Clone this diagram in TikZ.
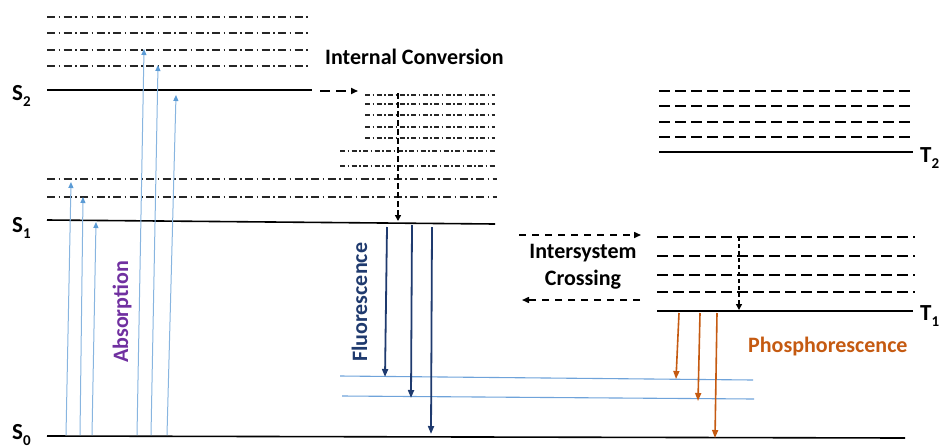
\documentclass[tikz,border=0pt]{standalone}
\usepackage{fontspec}
\setmainfont{Carlito}
\usetikzlibrary{arrows.meta}
\definecolor{absblue}{HTML}{5B9BD5}
\definecolor{abslight}{HTML}{88B5E0}
\definecolor{navyc}{HTML}{1F3A6E}
\definecolor{orng}{HTML}{C55A11}
\definecolor{purp}{HTML}{7030A0}
\definecolor{lineblue}{HTML}{6FA3DA}
\newcommand\lvlab[2]{#1\raisebox{-6pt}{\fontsize{15}{15}\selectfont #2}}
\begin{document}
\begin{tikzpicture}[x=1pt,y=-1pt,
  lbl/.style={font=\fontsize{22}{27}\selectfont\bfseries, inner sep=0pt},
  biglbl/.style={font=\fontsize{23}{27}\selectfont\bfseries, inner sep=0pt},
  level/.style={line width=1.6pt, black},
  ddlong/.style={line width=1.4pt, black!85, dash pattern=on 8pt off 3.5pt on 1.5pt off 3.5pt},
  ddshort/.style={line width=1.3pt, black!85, dash pattern=on 5pt off 2.5pt on 1.5pt off 2.5pt},
  tdash/.style={line width=1.4pt, black, dash pattern=on 10.5pt off 5.5pt},
  absarr/.style={abslight, line width=1pt, -{Triangle[length=6pt,width=5pt,color=absblue]}},
  fluarr/.style={navyc, line width=1.8pt, -{Triangle[length=8pt,width=6pt]}},
  phoarr/.style={orng, line width=1.6pt, -{Triangle[length=8pt,width=6pt]}},
  blueline/.style={lineblue, line width=1.1pt},
  icarr/.style={black, line width=1.6pt, dash pattern=on 6pt off 3pt, -{Triangle[length=6pt,width=6pt]}},
  icharr/.style={black, line width=1.6pt, dash pattern=on 10pt off 6pt, -{Triangle[length=7pt,width=6pt]}},
  iscarr/.style={black, line width=1.5pt, dash pattern=on 7pt off 6pt, -{Triangle[length=7pt,width=6pt]}},
  tarr/.style={black, line width=1.4pt, dash pattern=on 4pt off 3pt, -{Triangle[length=6pt,width=6pt]}}
]
\useasboundingbox (0,0) rectangle (941,447);

% ---- energy levels ----
\foreach \y in {17,33,50,66} \draw[ddlong] (47,\y) -- (310,\y);
\draw[level] (47,90) -- (312,90);
\foreach \y in {95,104,115,127,138} \draw[ddshort] (365,\y) -- (495,\y);
\foreach \y in {151,166} \draw[ddshort] (340,\y) -- (495,\y);
\foreach \y in {179,197} \draw[ddlong] (47,\y) -- (497,\y);
\draw[level] (47,220) -- (495,224);
\draw[level] (47,436) -- (905,438);

\foreach \y in {91,106,122,137} \draw[tdash] (659,\y) -- (912,\y);
\draw[level] (659,152) -- (913,152);
\foreach \y in {237,256,275,292} \draw[tdash] (657,\y) -- (915,\y);
\draw[level] (657,311) -- (913,311);

\draw[blueline] (340,376) -- (753,380);
\draw[blueline] (342,396) -- (754,399);

% ---- labels ----
\node[biglbl, anchor=base west] (S2) at (12,100) {\lvlab{S}{2}};
\node[biglbl, anchor=base west] (S1) at (12,232) {\lvlab{S}{1}};
\node[biglbl, anchor=base west] (S0) at (12,439) {\lvlab{S}{0}};
\node[biglbl, anchor=base west] (T2) at (920,162) {\lvlab{T}{2}};
\node[biglbl, anchor=base west] (T1) at (920,320) {\lvlab{T}{1}};

\node[lbl, anchor=base west] (ic) at (325,64) {Internal Conversion};
\node[lbl, anchor=base] (isc1) at (583,258) {Intersystem};
\node[lbl, anchor=base] (isc2) at (583,285) {Crossing};
\node[lbl, anchor=base west, text=orng] (pho) at (748,352) {Phosphorescence};
\node[lbl, anchor=base west, rotate=90, text=purp] (abs) at (128,363) {Absorption};
\node[lbl, anchor=base west, rotate=90, text=navyc] (flu) at (367,362) {Fluorescence};

% ---- absorption ----
\coordinate (a1s) at (66,435);  \coordinate (a1e) at (71,182);
\coordinate (a2s) at (80,435);  \coordinate (a2e) at (83,197);
\coordinate (a3s) at (92,435);  \coordinate (a3e) at (96,222);
\coordinate (a4s) at (137,435); \coordinate (a4e) at (144,49);
\coordinate (a5s) at (151,435); \coordinate (a5e) at (158,65);
\coordinate (a6s) at (167,435); \coordinate (a6e) at (176,95);
\foreach \i in {1,...,6} \draw[absarr] (a\i s) -- (a\i e);

% ---- fluorescence ----
\coordinate (f1s) at (387,227); \coordinate (f1e) at (385,377);
\coordinate (f2s) at (412,225); \coordinate (f2e) at (411,398);
\coordinate (f3s) at (432,227); \coordinate (f3e) at (431,434);
\foreach \i in {1,2,3} \draw[fluarr] (f\i s) -- (f\i e);

% ---- phosphorescence ----
\coordinate (p1s) at (679,313); \coordinate (p1e) at (676,379);
\coordinate (p2s) at (700,313); \coordinate (p2e) at (698,401);
\coordinate (p3s) at (717,313); \coordinate (p3e) at (715,438);
\foreach \i in {1,2,3} \draw[phoarr] (p\i s) -- (p\i e);

% ---- internal conversion ----
\coordinate (ichs) at (320,91); \coordinate (iche) at (358,91);
\draw[icharr] (ichs) -- (iche);
\coordinate (icvs) at (398,93); \coordinate (icve) at (398,221);
\draw[icarr] (icvs) -- (icve);

% ---- intersystem crossing ----
\coordinate (isa) at (519,235); \coordinate (isb) at (641,235);
\draw[iscarr] (isa) -- (isb);
\coordinate (isc) at (640,300); \coordinate (isd) at (522,300);
\draw[iscarr] (isc) -- (isd);
\coordinate (tvs) at (739,237); \coordinate (tve) at (739,310);
\draw[tarr] (tvs) -- (tve);
\end{tikzpicture}
\end{document}
